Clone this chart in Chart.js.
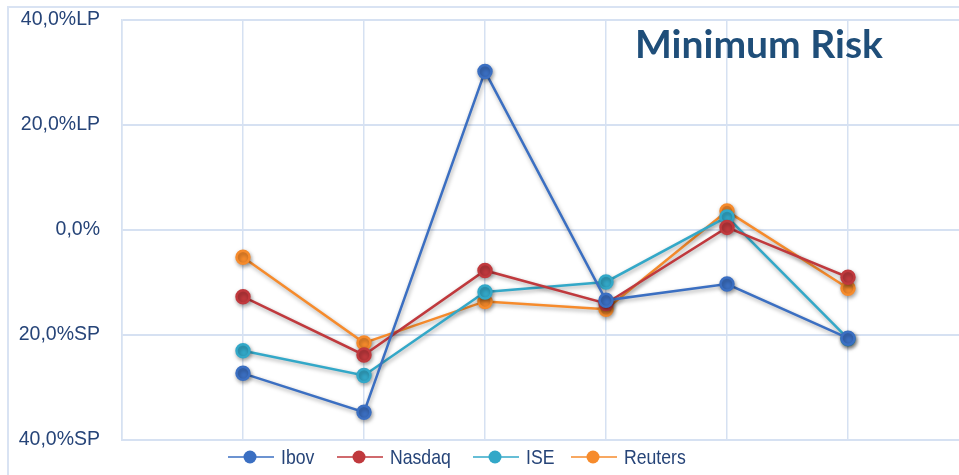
<!DOCTYPE html>
<html><head><meta charset="utf-8">
<script src="https://cdn.jsdelivr.net/npm/chart.js@4.4.1/dist/chart.umd.min.js"></script>
<style>
html,body{margin:0;padding:0;background:#fff;overflow:hidden;width:959px;height:475px;}
#wrap{position:relative;width:959px;height:475px;overflow:hidden;}
#frame{position:absolute;left:7px;top:6px;width:1000px;height:600px;border:2px solid #d9e3f3;box-sizing:border-box;}
#c{position:absolute;left:0;top:0;}
#title{position:absolute;left:635px;top:24px;font:bold 39px Lato,"Open Sans",sans-serif;line-height:39px;color:#1f4e79;white-space:nowrap;}
.leg{position:absolute;top:446px;height:22px;display:flex;align-items:center;font:21px "Liberation Sans",sans-serif;color:#264478;white-space:nowrap;}
.leg svg{margin-right:7px;flex:none;}
.leg span{display:inline-block;transform:scaleX(0.84);transform-origin:left center;}
</style>
</head><body>
<div id="wrap">
<div id="frame"></div>
<canvas id="c" width="978" height="475"></canvas>
<div id="title">Minimum Risk</div>
<div id="legend"></div>
</div>
<script>
const categories = ['1','2','3','4','5','6'];
const seriesNames = ['Ibov','Nasdaq','ISE','Reuters'];
const ibov    = [-27.3, -34.7, 30.2, -13.4, -10.3, -20.6];
const nasdaq  = [-12.7, -23.8, -7.7, -14.0, 0.5, -9.0];
const ise     = [-23.0, -27.7, -11.8, -9.9, 2.5, -20.7];
const reuters = [-5.2, -21.5, -13.6, -15.1, 3.6, -11.1];
const yTicks  = [-40, -20, 0, 20, 40];

const colors = ['#3b6fc2','#c0393d','#33a8c8','#f68b2c'];
const legendX = [228, 337, 473, 571];

const labels = ['', ...categories, ''];
const pad = arr => [null, ...arr, null];
const allSeries = [ibov, nasdaq, ise, reuters];

function fmt(v){
  if (v === 0) return '0,0%';
  const s = Math.abs(v).toFixed(1).replace('.', ',') + '%';
  return v > 0 ? s + 'LP' : s + 'SP';
}

const shadowPlugin = {
  id: 'shadow',
  beforeDatasetsDraw(chart){ const c = chart.ctx; c.save(); c.shadowColor='rgba(0,0,0,0.35)'; c.shadowBlur=4; c.shadowOffsetX=1; c.shadowOffsetY=2; },
  afterDatasetsDraw(chart){ chart.ctx.restore(); }
};

const gridColor = '#d6e1f2';
new Chart(document.getElementById('c'), {
  type: 'line',
  data: {
    labels: labels,
    datasets: allSeries.map((d, i) => ({
      label: seriesNames[i],
      data: pad(d),
      borderColor: colors[i],
      backgroundColor: colors[i],
      pointBackgroundColor: colors[i],
      pointBorderColor: colors[i],
      borderWidth: 2.5,
      pointRadius: 6.5,
      pointHoverRadius: 6.5,
      tension: 0,
      fill: false
    }))
  },
  options: {
    responsive: false,
    animation: false,
    events: [],
    layout: { padding: { top: 20, bottom: 35, left: 0, right: 7 } },
    plugins: { legend: { display: false }, tooltip: { enabled: false }, title: { display: false } },
    scales: {
      x: {
        type: 'category',
        offset: false,
        grid: { color: gridColor, lineWidth: 1.5, drawTicks: false },
        border: { color: gridColor, width: 2 },
        ticks: { display: false },
        afterFit: s => { s.height = 0; s.paddingLeft = 0; s.paddingRight = 0; }
      },
      y: {
        min: -40, max: 40,
        afterBuildTicks: s => { s.ticks = yTicks.map(v => ({ value: v })); },
        afterFit: s => { s.width = 122; s.paddingTop = 0; s.paddingBottom = 0; },
        grid: { color: gridColor, lineWidth: 2, drawTicks: false },
        border: { color: gridColor, width: 1.5 },
        ticks: {
          padding: 22,
          color: '#264478',
          font: { family: 'Liberation Sans', size: 19.5 },
          callback: v => fmt(v)
        }
      }
    }
  },
  plugins: [shadowPlugin]
});

const leg = document.getElementById('legend');
seriesNames.forEach((n, i) => {
  const d = document.createElement('div');
  d.className = 'leg';
  d.style.left = legendX[i] + 'px';
  d.innerHTML = '<svg width="46" height="16"><line x1="0" y1="8" x2="46" y2="8" stroke="' + colors[i] + '" stroke-width="1.5"/><circle cx="22" cy="8" r="6.5" fill="' + colors[i] + '"/></svg><span>' + n + '</span>';
  leg.appendChild(d);
});
</script>
</body></html>
